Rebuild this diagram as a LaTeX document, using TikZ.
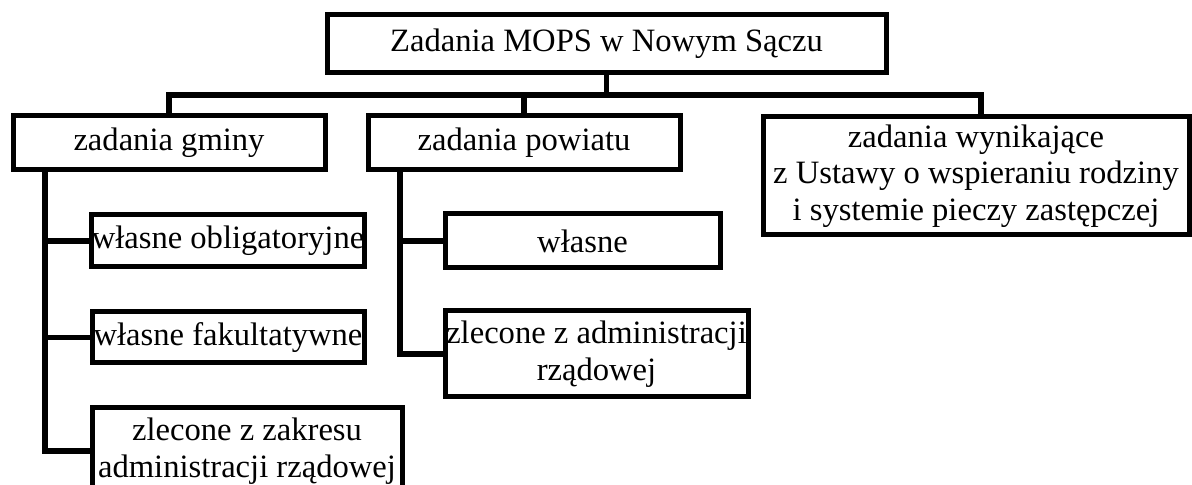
\documentclass[tikz,border=0pt]{standalone}
\usepackage{fontspec}
\setmainfont{Liberation Serif}
\tikzset{
    box/.style={draw, line width=2.5pt, inner sep=0pt, outer sep=0pt, align=center,
        font=\fontsize{16.3}{18.2}\selectfont},
    conn/.style={line width=2.6pt},
}
\begin{document}
\begin{tikzpicture}
[
    x=0.5pt, y=-0.5pt,
]
\useasboundingbox (0,0) rectangle (1192,485);
\clip (0,0) rectangle (1192,485);
\node[box, minimum width=279.5pt, minimum height=29pt] (mops) at (606.5,44) {Zadania MOPS w Nowym Sączu};
\node[box, minimum width=156pt, minimum height=27pt] (gminy) at (169,143) {zadania gminy};
\node[box, minimum width=156pt, minimum height=27pt] (powiat) at (524,143) {zadania powiatu};
\node[box, minimum width=213pt, minimum height=59pt] (ustawa) at (976,176) {zadania wynikające\\ z Ustawy o wspieraniu rodziny\\ i systemie pieczy zastępczej};
\node[box, minimum width=136pt, minimum height=26pt] (oblig) at (228,241) {własne obligatoryjne};
\node[box, minimum width=136pt, minimum height=25.5pt] (fakult) at (228,337.5) {własne fakultatywne};
\node[box, minimum width=155pt, minimum height=43pt] (zlecg) at (247,451) {zlecone z zakresu\\ administracji rządowej};
\node[box, minimum width=137.5pt, minimum height=27pt] (wlasne) at (582.5,241) {własne};
\node[box, minimum width=151.5pt, minimum height=43pt] (zlecp) at (596.5,354) {zlecone z administracji\\ rządowej};
\draw[conn] (mops.south) -- ++(0,22) -| (gminy.north);
\draw[conn] (mops.south) -- ++(0,22) -| (powiat.north);
\draw[conn] (mops.south) -- ++(0,22) -| ([xshift=2.5pt]ustawa.north);
\draw[conn] ([xshift=16pt]gminy.south west) |- (oblig.west);
\draw[conn] ([xshift=16pt]gminy.south west) |- (fakult.west);
\draw[conn] ([xshift=16pt]gminy.south west) |- (zlecg.west);
\draw[conn] ([xshift=16pt]powiat.south west) |- (wlasne.west);
\draw[conn] ([xshift=16pt]powiat.south west) |- (zlecp.west);
\end{tikzpicture}
\end{document}
